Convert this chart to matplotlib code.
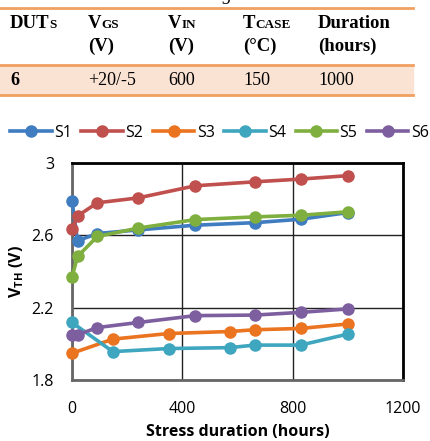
import matplotlib.pyplot as plt

# stress time points (hours)
t_a = [0, 20, 92, 240, 447, 663, 829, 1000]
t_b = [0, 148, 350, 571, 663, 829, 1000]

s1 = [2.79, 2.57, 2.61, 2.63, 2.656, 2.67, 2.689, 2.726]
s2 = [2.633, 2.707, 2.78, 2.807, 2.874, 2.896, 2.911, 2.93]
s3 = [1.948, 2.026, 2.057, 2.068, 2.078, 2.085, 2.11]
s4 = [2.118, 1.957, 1.974, 1.979, 1.993, 1.993, 2.054]
s5 = [2.368, 2.483, 2.594, 2.64, 2.687, 2.702, 2.711, 2.73]
s6 = [2.05, 2.05, 2.09, 2.118, 2.156, 2.159, 2.174, 2.193]

x_ticks = [0, 400, 800, 1200]
y_ticks = [1.8, 2.2, 2.6, 3.0]
y_ticklabels = ['1.8', '2.2', '2.6', '3']

# table contents
head_main = ['DUT', 'V', 'V', 'T', 'Duration']
head_sub = ['s', 'GS', 'IN', 'CASE', '']
head_line2 = ['', '(V)', '(V)', '(°C)', '(hours)']
row_vals = ['6', '+20/-5', '600', '150', '1000']

W, H = 431, 441
fig = plt.figure(figsize=(W / 100, H / 100), dpi=100)

def fx(px):
    return px / W

def fy(py):
    return 1 - py / H

serif = 'Liberation Serif'
sans = 'Open Sans'
orange = '#F0A060'

# caption cut off at the top
fig.text(fx(211), fy(-4), 'switching test', family=serif, style='italic',
         fontsize=13.5, ha='center', va='center')

# table rules and shaded row
fig.patches.append(plt.Rectangle((0, fy(95)), fx(413), fy(65) - fy(95),
                                 transform=fig.transFigure, color='#FBE3D3', zorder=0))
for yy in [8, 65, 95]:
    fig.add_artist(plt.Line2D([0, fx(413)], [fy(yy), fy(yy)], color=orange, lw=2,
                              transform=fig.transFigure))

col_x = [10, 88, 168, 243, 318]
fig.canvas.draw()
r = fig.canvas.get_renderer()
for i, cx in enumerate(col_x):
    t = fig.text(fx(cx), fy(28), head_main[i], family=serif, weight='bold',
                 fontsize=13.5, ha='left', va='baseline')
    if head_sub[i]:
        bb = t.get_window_extent(renderer=r)
        fig.text(bb.x1 / W, fy(28), head_sub[i].upper(), family=serif, weight='bold',
                 fontsize=9.5, ha='left', va='baseline')
    if head_line2[i]:
        fig.text(fx(cx), fy(51), head_line2[i], family=serif, weight='bold',
                 fontsize=13.5, ha='left', va='baseline')
    fig.text(fx(cx), fy(85), row_vals[i], family=serif,
             weight='bold' if i == 0 else 'normal', fontsize=13, ha='left', va='baseline')

# chart
ax = fig.add_axes([fx(72), fy(380), fx(403) - fx(72), fy(163) - fy(380)])
colors = ['#3F7CC0', '#C0504D', '#EB7420', '#3FA6BF', '#7FAF3F', '#7D5FA0']
series = [(t_a, s1), (t_a, s2), (t_b, s3), (t_b, s4), (t_a, s5), (t_a, s6)]
names = ['S1', 'S2', 'S3', 'S4', 'S5', 'S6']
for (tx, sy), c, n in zip(series, colors, names):
    ax.plot(tx, sy, '-o', color=c, lw=2.6, ms=8, label=n, clip_on=False, zorder=3)

ax.set_xlim(0, 1200)
ax.set_ylim(1.8, 3.0)
ax.set_xticks(x_ticks)
ax.set_yticks(y_ticks)
ax.set_yticklabels(y_ticklabels)
ax.tick_params(length=0, labelsize=11.5)
ax.tick_params(axis='x', pad=15)
ax.tick_params(axis='y', pad=13)
for lab in ax.get_xticklabels() + ax.get_yticklabels():
    lab.set_family(sans)
ax.grid(True, color='#222222', lw=1)
ax.spines['left'].set_color('#666666')
ax.spines['bottom'].set_color('#666666')
ax.spines['top'].set_color('black')
ax.spines['right'].set_color('black')
for sp in ax.spines.values():
    sp.set_linewidth(2)

ax.set_xlabel('Stress duration (hours)', family=sans, weight='bold', fontsize=11.5, labelpad=5)
ax.set_ylabel(r'V$_{\mathregular{TH}}$ (V)', family=sans, weight='bold', fontsize=11.5, labelpad=4)

fig.legend(loc='center left', bbox_to_anchor=(fx(10), fy(133)), ncol=6, frameon=False,
           prop={'family': sans, 'size': 11.5}, handlelength=2.6, handletextpad=0.15,
           columnspacing=0.6, borderaxespad=0, borderpad=0)

fig.savefig('out.png', dpi=100)
